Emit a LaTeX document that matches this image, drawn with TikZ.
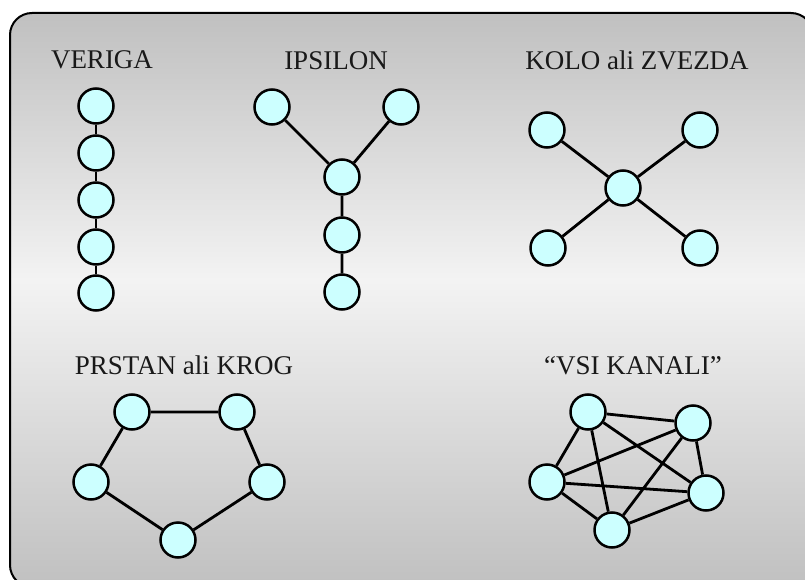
\documentclass[tikz,border=0pt]{standalone}
\usepackage{fontspec}
\setmainfont{Liberation Serif}
\definecolor{nodefill}{RGB}{204,255,255}
\definecolor{panelgray}{RGB}{192,192,192}
\definecolor{panellight}{RGB}{243,243,243}
% vertical panel gradient: grey at top and bottom, light band slightly above centre
\pgfdeclareverticalshading{panelshade}{100bp}{color(0bp)=(panelgray); color(25bp)=(panelgray);
  color(51.7bp)=(panellight); color(75bp)=(panelgray); color(100bp)=(panelgray)}
\begin{document}
\begin{tikzpicture}[x=1pt,y=-1pt,
  vertex/.style={circle,draw=black,fill=nodefill,line width=2.5pt,minimum size=35pt,inner sep=0pt},
  link/.style={draw=black,line width=2.8pt},
  caption/.style={anchor=base,font=\fontsize{27}{31}\selectfont,inner sep=0pt,text=black!90}]
\useasboundingbox (0,0) rectangle (805,580);
% panel with vertical gradient
\begin{scope}
  \clip (0,0) rectangle (805,580);
  \draw[line width=2pt,rounded corners=22pt,shading=panelshade]
    (10,13) rectangle (813,587);
\end{scope}

% chain
\node[caption] (tv) at (102,69) {VERIGA};
\node[vertex] (v1) at (96,106) {};
\node[vertex] (v2) at (96,153) {};
\node[vertex] (v3) at (96,200) {};
\node[vertex] (v4) at (96,247) {};
\node[vertex] (v5) at (96,293) {};
\draw[link] (v1) -- (v2) (v2) -- (v3) (v3) -- (v4) (v4) -- (v5);

% Y shape
\node[caption] (ty) at (336,70) {IPSILON};
\node[vertex] (y1) at (272,107) {};
\node[vertex] (y2) at (401,107) {};
\node[vertex] (y3) at (342,177) {};
\node[vertex] (y4) at (342,235) {};
\node[vertex] (y5) at (342,292) {};
\draw[link] (y1) -- (y3) (y2) -- (y3) (y3) -- (y4) (y4) -- (y5);

% star
\node[caption] (tk) at (637,70) {KOLO ali ZVEZDA};
\node[vertex] (k0) at (623,188) {};
\node[vertex] (k1) at (547,130) {};
\node[vertex] (k2) at (700,130) {};
\node[vertex] (k3) at (548,248) {};
\node[vertex] (k4) at (700,248) {};
\draw[link] (k0) -- (k1) (k0) -- (k2) (k0) -- (k3) (k0) -- (k4);

% ring
\node[caption] (tp) at (184,374) {PRSTAN ali KROG};
\node[vertex] (p1) at (132,412) {};
\node[vertex] (p2) at (237,412) {};
\node[vertex] (p3) at (267,482) {};
\node[vertex] (p4) at (178,540) {};
\node[vertex] (p5) at (91,482) {};
\draw[link] (p1) -- (p2) (p2) -- (p3) (p3) -- (p4) (p4) -- (p5) (p5) -- (p1);

% fully connected
\node[caption] (tf) at (633,374) {“VSI KANALI”};
\node[vertex] (f1) at (588,412) {};
\node[vertex] (f2) at (693,423) {};
\node[vertex] (f3) at (706,493) {};
\node[vertex] (f4) at (612,530) {};
\node[vertex] (f5) at (547,482) {};
\draw[link] (f1) -- (f2) (f1) -- (f3) (f1) -- (f4) (f1) -- (f5)
            (f2) -- (f3) (f2) -- (f4) (f2) -- (f5)
            (f3) -- (f4) (f3) -- (f5)
            (f4) -- (f5);
\end{tikzpicture}
\end{document}
